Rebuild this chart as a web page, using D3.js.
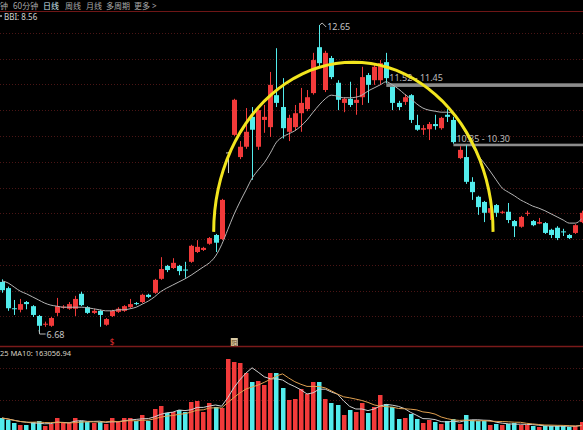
<!DOCTYPE html>
<html>
<head>
<meta charset="utf-8">
<script src="https://cdn.jsdelivr.net/npm/d3@7"></script>
<style>
html, body { margin: 0; padding: 0; background: #000; overflow: hidden; }
svg { display: block; }
text { font-family: "Noto Sans", "Noto Sans CJK SC", sans-serif; }
</style>
</head>
<body>
<div id="chart"></div>
<script>
// daily candles (open / high / low / close)
const openP = [7.67,7.55,7.16,7.13,7.28,7.20,7.01,6.84,6.82,7.07,
  7.18,7.15,7.15,7.44,7.18,7.07,7.11,6.84,7.01,7.09,
  7.11,7.18,7.26,7.28,7.42,7.46,7.73,7.98,7.94,7.98,
  7.91,8.06,8.25,8.29,8.41,8.58,8.50,10.18,10.52,10.09,
  10.29,10.87,10.29,10.81,10.67,11.29,11.06,10.58,10.67,10.94,
  11.02,11.33,12.22,11.39,12.01,11.53,11.14,11.22,11.14,11.25,
  11.68,11.58,11.58,11.93,11.45,11.14,11.16,11.29,10.71,10.62,
  10.63,10.73,10.65,10.91,10.81,10.07,10.09,9.61,9.32,9.22,
  9.01,9.16,9.01,9.03,8.85,8.74,8.99,8.85,8.80,8.81,
  8.68,8.72,8.65,8.58,8.62,8.83];
const highP = [7.72,7.58,7.32,7.34,7.30,7.22,7.03,6.90,6.99,7.36,
  7.22,7.28,7.40,7.48,7.20,7.15,7.13,6.97,7.13,7.18,
  7.22,7.34,7.28,7.44,7.44,7.73,8.15,8.00,8.13,8.00,
  8.06,8.39,8.48,8.35,8.54,8.60,9.28,10.19,11.22,10.40,
  11.04,11.06,11.04,11.10,11.74,12.20,11.62,10.91,11.10,11.43,
  11.39,12.11,12.65,12.15,12.05,11.58,11.25,11.55,11.43,11.84,
  11.72,11.88,11.97,12.11,11.45,11.18,11.31,11.31,10.91,10.71,
  10.77,10.91,10.87,11.02,10.87,10.30,10.32,9.70,9.34,9.24,
  9.12,9.18,9.05,9.20,8.87,8.95,9.05,8.87,8.91,8.83,
  8.70,8.75,8.70,8.60,8.79,9.05];
const lowP = [7.46,7.11,7.03,7.08,7.14,6.99,6.68,6.80,6.80,7.01,
  7.15,7.13,7.01,7.20,7.05,7.05,6.80,6.82,6.99,7.07,
  7.09,7.16,7.22,7.26,7.36,7.44,7.71,7.86,7.92,7.80,
  7.75,8.04,8.23,8.27,8.39,8.25,8.48,9.78,10.50,10.05,
  10.25,9.65,10.23,10.56,10.48,11.06,10.45,10.40,10.60,10.58,
  10.98,11.30,11.85,11.35,11.60,11.00,10.96,11.06,10.91,11.10,
  11.14,11.49,11.49,11.52,11.00,11.00,11.10,10.75,10.60,10.52,
  10.42,10.62,10.62,10.77,10.35,10.05,9.57,9.26,8.97,8.83,
  8.87,8.93,8.99,8.81,8.54,8.72,8.95,8.75,8.79,8.60,
  8.52,8.48,8.56,8.50,8.60,8.81];
const closeP = [7.51,7.16,7.14,7.24,7.24,7.03,6.82,6.86,6.97,7.20,
  7.19,7.24,7.34,7.22,7.07,7.11,7.03,6.95,7.11,7.15,
  7.20,7.24,7.24,7.42,7.38,7.71,7.92,7.90,8.04,7.88,
  7.89,8.37,8.35,8.33,8.52,8.43,9.26,10.18,11.20,10.29,
  10.58,10.62,11.00,10.87,11.49,11.14,10.65,10.85,10.94,11.14,
  11.25,11.97,11.91,12.11,11.64,11.20,11.22,11.10,11.20,11.64,
  11.49,11.84,11.91,11.62,11.14,11.06,11.25,10.81,10.62,10.65,
  10.73,10.69,10.85,10.87,10.38,10.23,9.61,9.41,9.12,9.01,
  9.10,9.01,9.03,8.87,8.75,8.93,9.01,8.77,8.83,8.62,
  8.58,8.52,8.63,8.52,8.77,9.01];

// BBI line
const bbi = [7.69,7.65,7.57,7.49,7.44,7.38,7.32,7.26,7.22,7.20,
  7.18,7.18,7.18,7.18,7.17,7.15,7.13,7.11,7.11,7.13,
  7.13,7.15,7.18,7.24,7.30,7.38,7.48,7.55,7.61,7.67,
  7.73,7.80,7.88,7.96,8.04,8.17,8.39,8.68,8.97,9.22,
  9.45,9.68,9.84,9.98,10.17,10.38,10.48,10.54,10.60,10.69,
  10.81,10.96,11.10,11.22,11.29,11.27,11.24,11.24,11.25,11.29,
  11.37,11.43,11.49,11.55,11.49,11.41,11.31,11.22,11.12,11.04,
  11.00,10.98,10.96,10.96,10.93,10.77,10.56,10.32,10.13,9.98,
  9.82,9.65,9.49,9.41,9.34,9.26,9.20,9.14,9.10,9.05,
  8.99,8.93,8.87,8.81,8.81,8.89];

// volume (hands)
const volume = [362600,310800,233100,181300,181300,259000,284900,155400,207200,362600,
  233100,233100,362600,284900,259000,233100,259000,207200,362600,259000,
  362600,362600,284900,440300,284900,595700,673400,492100,518000,569800,
  518000,777000,802900,518000,751100,647500,621600,1890700,1813000,1787100,
  1528100,1295000,1320900,1217300,1528100,1528100,1139600,828800,854700,1113700,
  984200,1295000,1295000,854700,751100,699300,440300,569800,518000,751100,
  492100,647500,958300,725200,647500,336700,362600,466200,336700,233100,
  310800,259000,207200,284900,336700,207200,440300,310800,284900,284900,
  181300,207200,181300,207200,233100,181300,181300,155400,129500,155400,
  155400,155400,155400,129500,155400,259000];

const priceGrid = [7.0, 7.5, 8.0, 8.5, 9.0, 9.5, 10.0, 10.5, 11.0, 11.5, 12.0, 12.5];
const volumeGrid = [828800, 1657600];
const gaps = [{ start: 63, hi: 11.52, lo: 11.45 }, { start: 74, hi: 10.35, lo: 10.30 }];
const menuItems = ["钟", "60分钟", "日线", "周线", "月线", "多周期", "更多 >"];
const menuX = [0, 13, 43, 65, 86, 106, 134];

const W = 583, H = 430;
const RED = "#f23a3a", CYAN = "#52ecec";

const svg = d3.select("#chart").append("svg")
    .attr("width", W)
    .attr("height", H);

svg.append("rect").attr("width", W).attr("height", H).attr("fill", "#000");

const n = openP.length;
const x = d3.scaleLinear().domain([0, n - 1]).range([2, 2 + 6.1 * (n - 1)]);
const y = d3.scaleLinear().domain([6.68, 12.65]).range([333, 25]);
const yv = d3.scaleLinear().domain([0, d3.max(volume)]).range([432, 359]);

const candles = d3.range(n).map(i => ({
    i, o: openP[i], h: highP[i], l: lowP[i], c: closeP[i], v: volume[i]
}));
const colorOf = d => d.c > d.o ? RED : (d.c < d.o ? CYAN : "#c8c8c8");

// grid lines (faint dotted)
svg.selectAll(".pgrid")
    .data(priceGrid)
    .enter().append("line")
    .attr("x1", 0).attr("x2", W)
    .attr("y1", d => Math.round(y(d)) + 0.5)
    .attr("y2", d => Math.round(y(d)) + 0.5)
    .attr("stroke", "#4a1515")
    .attr("stroke-dasharray", "1,2");

svg.selectAll(".vgrid")
    .data(volumeGrid)
    .enter().append("line")
    .attr("x1", 0).attr("x2", W)
    .attr("y1", d => Math.round(yv(d)) + 0.5)
    .attr("y2", d => Math.round(yv(d)) + 0.5)
    .attr("stroke", "#4a1515")
    .attr("stroke-dasharray", "1,2");

// panel separators
svg.append("line").attr("x1", 0).attr("x2", W).attr("y1", 11.5).attr("y2", 11.5)
    .attr("stroke", "#6e1616").attr("stroke-width", 1.2);
svg.append("line").attr("x1", 0).attr("x2", W).attr("y1", 346.5).attr("y2", 346.5)
    .attr("stroke", "#7a1a1a").attr("stroke-width", 1.5);

// top menu
svg.selectAll(".menu")
    .data(menuItems)
    .enter().append("text")
    .attr("x", (d, i) => menuX[i])
    .attr("y", 9)
    .attr("font-size", 8)
    .attr("font-family", "'Noto Sans CJK SC', sans-serif")
    .attr("fill", d => d === "日线" ? "#cfe6ee" : "#a8a8a8")
    .text(d => d);

svg.append("rect").attr("x", 0).attr("y", 15).attr("width", 2).attr("height", 2).attr("fill", "#888");
svg.append("text").attr("x", 4).attr("y", 20)
    .attr("font-size", 8).attr("fill", "#d0d0d0")
    .text("BBI: 8.56");

// gap bands
gaps.forEach(g => {
    svg.append("rect")
        .attr("x", x(g.start))
        .attr("y", y(g.hi))
        .attr("width", W - x(g.start))
        .attr("height", Math.max(2.5, y(g.lo) - y(g.hi)))
        .attr("fill", "#8c8c8c");
    svg.append("text")
        .attr("x", x(g.start) + 3)
        .attr("y", y(g.hi) - 2)
        .attr("font-size", 9)
        .attr("fill", "#bdbdbd")
        .text(`${g.hi.toFixed(2)} - ${g.lo.toFixed(2)}`);
});

// wicks
svg.selectAll(".wick")
    .data(candles)
    .enter().append("line")
    .attr("x1", d => Math.round(x(d.i)) + 0.5)
    .attr("x2", d => Math.round(x(d.i)) + 0.5)
    .attr("y1", d => y(d.h))
    .attr("y2", d => y(d.l))
    .attr("stroke", colorOf)
    .attr("stroke-width", 1);

// bodies
svg.selectAll(".body")
    .data(candles)
    .enter().append("rect")
    .attr("x", d => Math.round(x(d.i)) - 2)
    .attr("y", d => y(Math.max(d.o, d.c)))
    .attr("width", 5)
    .attr("height", d => Math.max(1, Math.abs(y(d.o) - y(d.c))))
    .attr("fill", colorOf);

// BBI
svg.append("path")
    .datum(bbi)
    .attr("fill", "none")
    .attr("stroke", "#b4b4b4")
    .attr("stroke-width", 1)
    .attr("d", d3.line().x((d, i) => x(i)).y(d => y(d)).curve(d3.curveMonotoneX));

// high / low markers
const iMax = d3.maxIndex(highP), iMin = d3.minIndex(lowP);
const hx = x(iMax), hy = y(highP[iMax]);
svg.append("path")
    .attr("d", `M${hx + 0.5},${hy} L${hx + 3},${hy - 2} L${hx + 7},${hy + 2}`)
    .attr("fill", "none").attr("stroke", "#bbb").attr("stroke-width", 1);
svg.append("text").attr("x", hx + 8).attr("y", hy + 5)
    .attr("font-size", 9).attr("fill", "#c4c4c4")
    .text(highP[iMax].toFixed(2));

const lx = x(iMin), ly = y(lowP[iMin]);
svg.append("path")
    .attr("d", `M${lx + 0.5},${ly - 3} L${lx + 1},${ly + 1} L${lx + 7},${ly + 1}`)
    .attr("fill", "none").attr("stroke", "#bbb").attr("stroke-width", 1);
svg.append("text").attr("x", lx + 8).attr("y", ly + 4.5)
    .attr("font-size", 9).attr("fill", "#c4c4c4")
    .text(lowP[iMin].toFixed(2));

// yellow arc drawn over the rise and fall
const arcLeft = 34.7, arcRight = 80.5, arcBase = 8.64, arcTop = 11.93;
const arcPts = d3.range(0, 1.0001, 0.02).map(t => {
    const a = Math.PI * (1 - t);
    return [(arcLeft + arcRight) / 2 + (arcRight - arcLeft) / 2 * Math.cos(a),
        arcBase + (arcTop - arcBase) * Math.sin(a)];
});
svg.append("path")
    .datum(arcPts)
    .attr("fill", "none")
    .attr("stroke", "#f2e51e")
    .attr("stroke-width", 3)
    .attr("d", d3.line().x(d => x(d[0])).y(d => y(d[1])));

// markers on separator
svg.append("text").attr("x", x(18) - 2).attr("y", 345)
    .attr("font-size", 8).attr("fill", "#e03030").text("$");
svg.append("rect").attr("x", x(38) - 3).attr("y", 338).attr("width", 7).attr("height", 8)
    .attr("fill", "#d9c9a3");
svg.append("text").attr("x", x(38) - 2.5).attr("y", 344.5)
    .attr("font-size", 6).attr("fill", "#6a4a20")
    .attr("font-family", "'Noto Sans CJK SC', sans-serif").text("阳");

// volume header
svg.append("text").attr("x", 0).attr("y", 356)
    .attr("font-size", 7.5).attr("fill", "#d8d2c4")
    .text("25 MA10: 163056.94");

// volume bars
svg.selectAll(".vol")
    .data(candles)
    .enter().append("rect")
    .attr("x", d => Math.round(x(d.i)) - 2)
    .attr("y", d => yv(d.v))
    .attr("width", 4.5)
    .attr("height", d => yv(0) - yv(d.v))
    .attr("fill", d => d.c >= d.o ? RED : CYAN);

// volume moving averages
const ma = k => volume.map((v, i) => d3.mean(volume.slice(Math.max(0, i - k + 1), i + 1)));
[[ma(5), "#d0d0d0"], [ma(10), "#e0a050"]].forEach(([s, col]) => {
    svg.append("path")
        .datum(s)
        .attr("fill", "none")
        .attr("stroke", col)
        .attr("stroke-width", 1)
        .attr("d", d3.line().x((d, i) => x(i)).y(d => yv(d)));
});
</script>
</body>
</html>
